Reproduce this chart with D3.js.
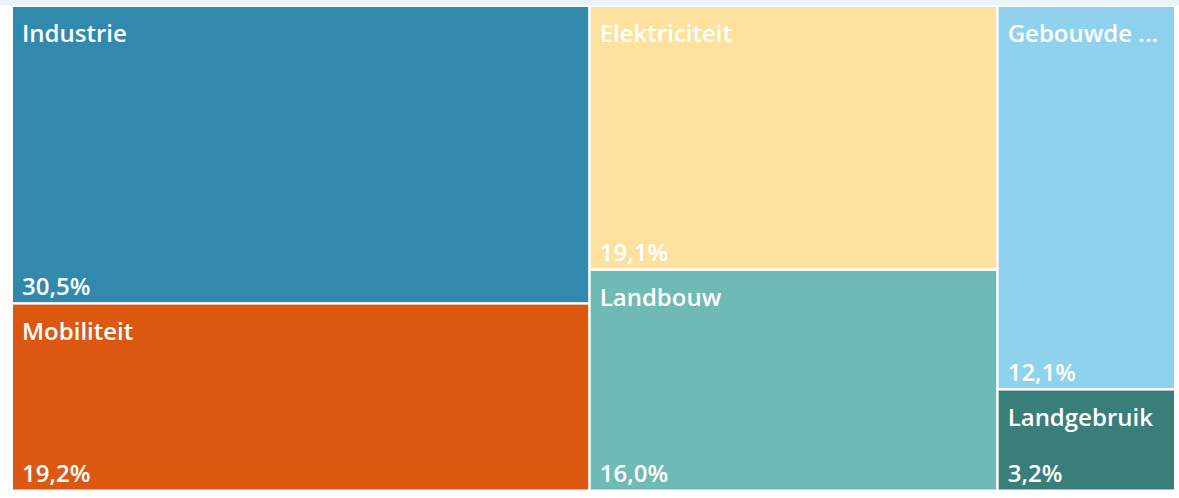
<!DOCTYPE html>
<html>
<head>
<meta charset="utf-8">
<script src="https://cdn.jsdelivr.net/npm/d3@7"></script>
<style>
  body { margin: 0; background: #fff; }
  svg { display: block; }
</style>
</head>
<body>
<div class="chart"></div>
<script>
// data
let categories = ['Industrie', 'Mobiliteit', 'Elektriciteit', 'Landbouw', 'Gebouwde omgeving', 'Landgebruik']
let shares = [30.5, 19.2, 19.1, 16.0, 12.1, 3.2]
let colors = ['#318aae', '#dc5810', '#fde29f', '#70bab6', '#8ed2ee', '#3a7e7a']

let svgWidth = 1179
let svgHeight = 498

let margin = { left: 13, right: 5, top: 7, bottom: 8.5 }
let width = svgWidth - margin.left - margin.right
let height = svgHeight - margin.top - margin.bottom

let svg = d3.select('.chart')
    .append('svg')
    .attr('width', svgWidth)
    .attr('height', svgHeight)

// light strip along the top
svg.append('rect')
    .attr('x', 0).attr('y', 0)
    .attr('width', svgWidth).attr('height', 5.5)
    .attr('fill', '#e8f3fa')

let g = svg.append('g')
    .attr('transform', `translate(${margin.left},${margin.top})`)

let data = categories.map((name, i) => ({ name, value: shares[i], color: colors[i] }))

let root = d3.hierarchy({ children: data })
    .sum(d => d.value || 0)

d3.treemap()
    .tile(d3.treemapSquarify)
    .size([width, height])
    .paddingInner(2.5)
    .round(false)(root)

let fmt = v => d3.format('.1f')(v).replace('.', ',') + '%'

let cell = g.selectAll('g.cell')
    .data(root.leaves())
    .join('g')
    .attr('class', 'cell')
    .attr('transform', d => `translate(${d.x0},${d.y0})`)

cell.append('rect')
    .attr('width', d => d.x1 - d.x0)
    .attr('height', d => d.y1 - d.y0)
    .attr('fill', d => d.data.color)

let font = "'Open Sans', 'Noto Sans', sans-serif"

let title = cell.append('text')
    .attr('x', 9)
    .attr('y', 35)
    .attr('fill', '#fff')
    .style('font-family', font)
    .style('font-weight', 600)
    .style('font-size', '24px')
    .text(d => d.data.name)

// drop whole words until the label fits, then add ' ...'
title.each(function(d) {
    let el = d3.select(this)
    let maxW = (d.x1 - d.x0) - 18
    let words = d.data.name.split(' ')
    if (this.getComputedTextLength() <= maxW) return
    while (words.length > 1) {
        words.pop()
        el.text(words.join(' ') + ' ...')
        if (this.getComputedTextLength() <= maxW) return
    }
})

cell.append('text')
    .attr('x', 9)
    .attr('y', d => d.y1 - d.y0 - 7)
    .attr('fill', '#fff')
    .style('font-family', font)
    .style('font-weight', 600)
    .style('font-size', '24px')
    .text(d => fmt(d.data.value))
</script>
</body>
</html>
